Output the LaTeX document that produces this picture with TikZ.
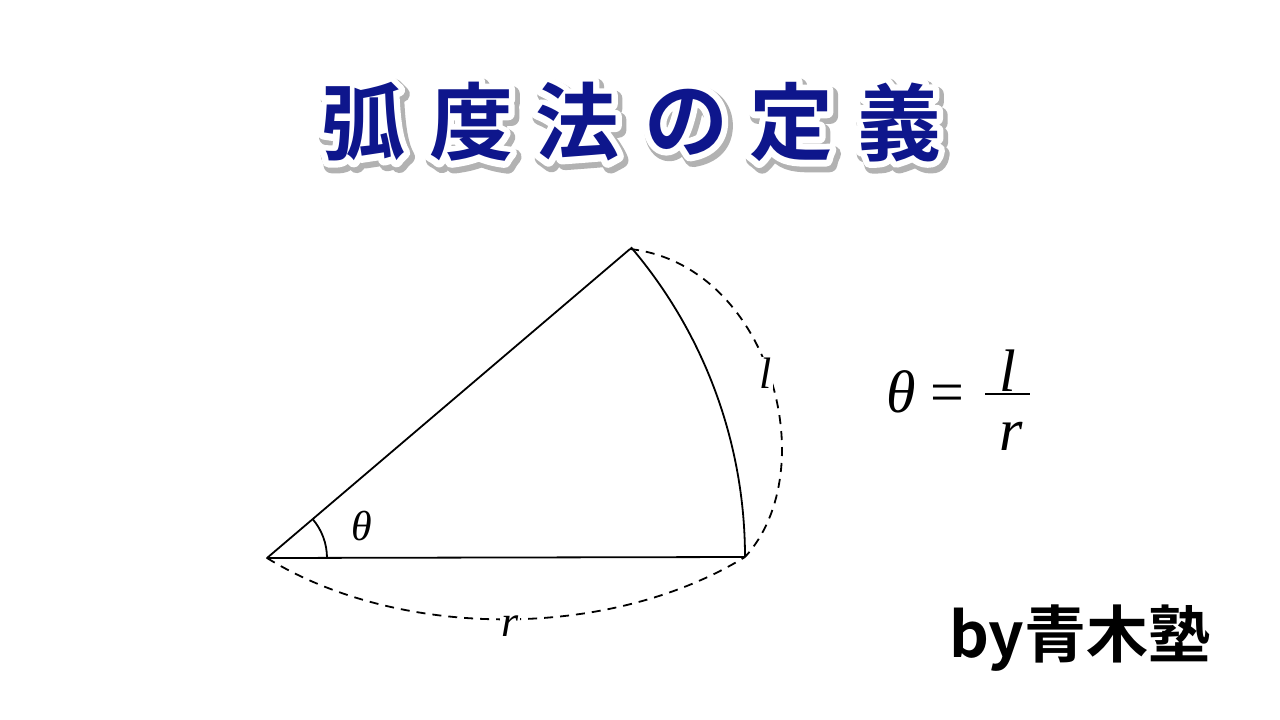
\documentclass[tikz,border=0pt]{standalone}
\usepackage{fontspec}
\setmainfont{Liberation Serif}
\newfontfamily\cjk{Noto Sans CJK JP}[BoldFont={Noto Sans CJK JP Bold}]
\newfontfamily\cjkout{Noto Sans CJK JP Bold}[FakeBold=15]
\newfontfamily\cjkshadow{Noto Sans CJK JP Bold}[FakeBold=19]
\usetikzlibrary{calc}
\definecolor{titleblue}{RGB}{14,22,140}
\tikzset{
  titlech/.style={font=\cjk\bfseries\fontsize{84}{90}\selectfont, inner sep=0pt},
  titleout/.style={font=\cjkout\fontsize{84}{90}\selectfont, inner sep=0pt, text=white},
  titleshadow/.style={font=\cjkshadow\fontsize{84}{90}\selectfont, inner sep=0pt, text=black!30},
  solidline/.style={line width=1.8pt, black, line join=round},
  dashline/.style={line width=1.8pt, black, dash pattern=on 9pt off 7pt},
  lbl/.style={font=\itshape\fontsize{44}{50}\selectfont, fill=white, inner sep=1pt},
  formula/.style={font=\fontsize{60}{66}\selectfont, inner sep=0pt},
}
\begin{document}
\begin{tikzpicture}[x=1pt,y=-1pt,line join=round]
\useasboundingbox[fill=white] (0,0) rectangle (1280,720);
% title
\foreach \c/\x [count=\i] in {弧/363,度/471,法/577,の/686,定/791,義/899}{
  \node[titleshadow] (s\i) at (\x+3,126) {\c};
  \node[titleout] (o\i) at (\x,122) {\c};
  \node[titlech, text=titleblue] (t\i) at (\x,122) {\c};
}
% figure
\coordinate (O) at (267,558);
\coordinate (A) at (745,557);
\coordinate (B) at (630,249);
\draw[solidline] (A) -- (O) -- (B);
\draw[solidline] (A) arc[start angle=0, end angle=-40.4, radius=478];
\draw[solidline] ($(O)+(60,0)$) coordinate (angS) arc[start angle=0, end angle=-40.4, radius=60];
\draw[dashline] (B) .. controls (770,265) and (825,470) .. (A);
\draw[dashline] (O) .. controls (400,640) and (610,640) .. (A);
\node[lbl] (ll) at (766,373) {l};
\node[lbl] (rl) at (510,626) {r};
\node[font=\itshape\fontsize{42}{46}\selectfont, inner sep=0pt] (thl) at (362,526) {θ};
% formula
\node[formula, anchor=base] (fth) at (901,412) {\itshape θ};
\node[formula, anchor=base] (feq) at (947,412) {=};
\coordinate (barL) at (985,394);
\coordinate (barR) at (1030,394);
\draw[line width=2.2pt] (barL) -- (barR);
\node[formula, anchor=base] (fl) at (1008,391) {\itshape l};
\node[formula, anchor=base] (fr) at (1011,450) {\itshape r};
% credit
\node[font=\cjk\bfseries\fontsize{62}{66}\selectfont, inner sep=0pt] (by) at (1080,638) {by青木塾};
\end{tikzpicture}
\end{document}
